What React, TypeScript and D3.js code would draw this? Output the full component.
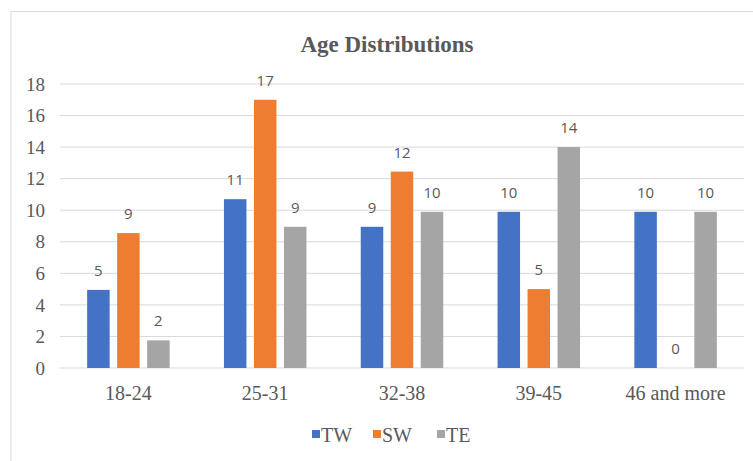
import React from "react";
import * as d3 from "d3";

const categories = ["18-24", "25-31", "32-38", "39-45", "46 and more"];
const seriesNames = ["TW", "SW", "TE"];
const twValues = [4.95, 10.7, 8.95, 9.9, 9.9];
const swValues = [8.55, 17, 12.45, 5, 0];
const teValues = [1.75, 8.95, 9.9, 14, 9.9];
const yTicks = [0, 2, 4, 6, 8, 10, 12, 14, 16, 18];
const colors = ["#4472C4", "#ED7D31", "#A5A5A5"];

const W = 753;
const H = 461;
const plotLeft = 60;
const plotRight = 744;
const plotTop = 84;
const plotBottom = 368;

export default function App() {
  const seriesValues = [twValues, swValues, teValues];
  const x0 = d3.scaleBand<string>().domain(categories).range([plotLeft, plotRight]).padding(0);
  const bw = x0.bandwidth();
  const groupW = 82.5;
  const x1 = d3
    .scaleBand<string>()
    .domain(seriesNames)
    .range([(bw - groupW) / 2, (bw + groupW) / 2])
    .paddingInner(0.25)
    .paddingOuter(0);
  const y = d3.scaleLinear().domain([0, 18]).range([plotBottom, plotTop]);
  const fmt = d3.format(".0f");

  const legendItems = [
    { name: "TW", x: 312 },
    { name: "SW", x: 373 },
    { name: "TE", x: 437 },
  ];

  const serif = "'Liberation Serif', 'Times New Roman', serif";

  return (
    <div style={{ position: "absolute", left: 0, top: 0 }}>
      <svg width={W} height={H} style={{ display: "block", background: "#fff" }}>
        <rect x={11} y={11.5} width={W} height={H} fill="#fff" stroke="#D9D9D9" strokeWidth={1} />
        <text
          x={387}
          y={52}
          textAnchor="middle"
          fontFamily={serif}
          fontWeight="bold"
          fontSize={23}
          fill="#595959"
        >
          Age Distributions
        </text>
        {yTicks.map((t) => (
          <g key={t}>
            <line x1={plotLeft} x2={plotRight} y1={y(t)} y2={y(t)} stroke="#D9D9D9" strokeWidth={1} />
            <text
              x={45}
              y={y(t)}
              dy="0.35em"
              textAnchor="end"
              fontFamily={serif}
              fontSize={19}
              fill="#595959"
            >
              {t}
            </text>
          </g>
        ))}
        {categories.map((c, ci) => (
          <g key={c} transform={`translate(${x0(c)},0)`}>
            {seriesNames.map((s, si) => {
              const v = seriesValues[si][ci];
              const bx = x1(s)!;
              return (
                <g key={s}>
                  <rect x={bx} y={y(v)} width={x1.bandwidth()} height={y(0) - y(v)} fill={colors[si]} />
                  <text
                    x={bx + x1.bandwidth() / 2}
                    y={y(v) - 14}
                    textAnchor="middle"
                    fontFamily="'Open Sans', 'Noto Sans', sans-serif"
                    fontSize={15}
                    fill="#595959"
                  >
                    {fmt(v)}
                  </text>
                </g>
              );
            })}
            <text
              x={bw / 2}
              y={400}
              textAnchor="middle"
              fontFamily={serif}
              fontSize={20}
              fill="#595959"
            >
              {c}
            </text>
          </g>
        ))}
        {legendItems.map((l, i) => (
          <g key={l.name}>
            <rect x={l.x} y={430} width={8} height={8} fill={colors[i]} />
            <text x={l.x + 9} y={442} fontFamily={serif} fontSize={20} fill="#595959">
              {l.name}
            </text>
          </g>
        ))}
      </svg>
    </div>
  );
}
